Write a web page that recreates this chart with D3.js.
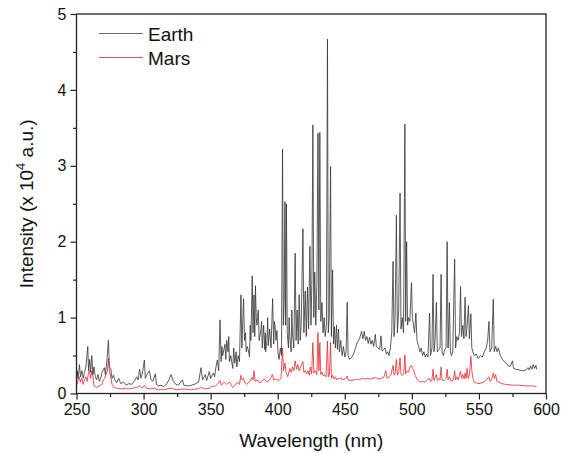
<!DOCTYPE html>
<html>
<head>
<meta charset="utf-8">
<script src="https://cdn.jsdelivr.net/npm/d3@7"></script>
<style>
  html, body { margin: 0; padding: 0; background: #fff; }
  svg { display: block; font-family: "Liberation Sans", Arial, sans-serif; }
</style>
</head>
<body>
<svg id="chart" width="564" height="453"></svg>
<script>
// ---- data (wavelength nm, intensity x1e4 a.u.) ----
const seriesNames = ["Earth", "Mars"];
const xTicks = [250, 300, 350, 400, 450, 500, 550, 600];
const yTicks = [0, 1, 2, 3, 4, 5];

const earth = [
[250,0.15],[250.5,0.3],[251.2,0.2],[252.2,0.38],[253,0.22],[254,0.3],[255,0.2],[256,0.28],[257,0.35],
[258.4,0.62],[259,0.3],[259.8,0.45],[260.5,0.28],[261.4,0.5],[262.2,0.25],[263,0.35],[264,0.22],[265,0.18],
[266,0.25],[267,0.16],[268,0.2],[269,0.28],[270.8,0.34],[271.5,0.25],[272.5,0.4],[273.8,0.70],[274.5,0.35],
[275.5,0.33],[276.5,0.2],[277.5,0.24],[278.6,0.18],[280,0.14],[281.5,0.2],[283,0.13],[285,0.15],[287,0.11],
[289,0.13],[291,0.12],[293,0.16],[294.9,0.22],[296,0.18],[297,0.32],[298,0.2],[299,0.26],[300.6,0.44],
[301.3,0.2],[302.5,0.25],[304.4,0.3],[305.5,0.18],[307,0.16],[308.8,0.26],[309.6,0.12],[311,0.1],[313,0.11],
[315,0.09],[317,0.12],[319,0.18],[320.5,0.25],[322,0.17],[324,0.12],[326,0.11],[329,0.18],[330,0.11],
[333,0.1],[336,0.11],[339,0.13],[341,0.15],[342.8,0.34],[344,0.18],[346,0.25],[347,0.17],[349,0.29],
[350,0.2],[352,0.27],[353,0.22],[354,0.35],[355,0.44],[356,0.3],[357,0.97],[357.8,0.42],[358.4,0.62],[359,0.5],
[360.7,0.65],[361.3,0.45],[362,0.7],[363,0.55],[363.5,0.75],[364,0.42],[365,0.5],[366.5,0.33],[367.2,0.6],[368,0.4],[369,0.55],[369.5,0.35],
[370.5,0.5],[371.5,0.42],[372.6,1.3],[373.3,0.6],[374.5,1.25],[375.3,0.7],[376,0.8],[376.5,0.55],[377.2,0.62],[378,0.58],
[379,0.48],[379.5,0.9],[380,0.7],[381,1.55],[381.6,0.8],[382.3,1.3],[382.9,0.75],[383.4,1.42],[384,1.0],[384.5,0.9],[385.5,1.1],
[386.2,0.7],[387.5,0.84],[388,0.95],[388.5,0.6],[389.5,0.9],[390.3,0.58],[390.8,0.8],[391,0.55],[392,0.7],[392.5,1.0],[393,0.63],[394,0.85],
[394.6,0.7],[395,0.6],[396.2,1.25],[397,0.65],[397.5,0.95],[398,0.9],[398.7,0.7],[399.4,0.83],[400.2,0.55],[401,0.45],[402,0.6],[402.8,0.5],
[403.6,3.22],[404.2,0.9],[404.8,1.2],[405.4,2.53],[405.9,0.9],[406.5,2.5],[407.1,0.8],[408,0.6],[408.5,1.0],[409,0.75],
[409.5,0.65],[410,0.55],[410.5,1.1],[411,0.8],[411.5,0.7],[412,0.6],[412.5,1.2],[413,1.85],[413.7,0.7],[414.5,1.1],[415.3,0.65],[416,1.3],[416.8,0.7],
[417.5,0.9],[418.8,2.17],[419.5,0.8],[420.5,1.35],[421.3,0.75],[422.2,1.4],[423,0.85],[424,1.94],
[424.8,0.9],[425.5,1.5],[426.2,3.54],[426.9,1.0],[427.6,1.6],[428.4,0.9],[429.2,1.45],[430,3.43],
[430.7,1.1],[431.4,3.44],[432.1,0.95],[433,1.2],[433.8,0.8],[434.6,1.0],[435.4,0.75],[436.3,0.9],
[437.1,4.67],[437.7,0.8],[438.4,1.0],[439.4,2.99],[440,0.75],[440.9,1.63],[441.6,0.65],[442.3,0.88],
[443,0.6],[443.8,0.9],[444.5,0.58],[445.3,0.85],[446,0.55],[447,0.7],[448,0.5],[449,0.62],[450,0.48],
[451,0.55],[451.8,1.2],[452.5,0.5],[453.5,0.45],[455,0.47],[456.5,0.52],[458,0.6],[459.5,0.68],[461,0.72],
[462.5,0.82],[463.5,0.72],[464.5,0.82],[465.5,0.7],[466.5,0.75],[467.5,0.66],[468.5,0.74],[469.5,0.65],
[470.5,0.7],[471.5,0.62],[472.8,0.78],[473.5,0.62],[475,0.6],[476,0.58],[477,0.76],[477.8,0.56],[479,0.58],
[480,0.6],[481,0.52],[482,0.55],[483,0.5],[484,0.6],[485,0.8],[486,1.74],[486.7,0.75],[487.5,1.0],
[488.5,2.35],[489.2,0.8],[490.2,1.1],[491.2,2.64],[491.9,0.85],[492.8,1.0],[493.8,0.8],[494.8,3.55],
[495.4,0.95],[496.1,2.0],[496.8,0.9],[497.6,1.0],[498.5,0.95],[499.7,1.46],[500.4,1.0],[501.2,0.9],
[502,0.8],[503,1.06],[503.8,0.7],[505,0.62],[506,0.55],[507,0.6],[508,0.5],[509,0.55],[510,0.48],
[511,0.52],[512,0.48],[513.2,1.06],[513.9,0.5],[515,0.6],[515.8,1.57],[516.5,0.55],[517.3,0.7],
[518.3,1.2],[519,0.55],[520,0.58],[521,0.6],[521.8,1.57],[522.5,0.55],[523.5,0.5],[524.5,0.58],
[525.5,0.6],[526.3,2.0],[527,0.6],[528,1.2],[528.7,0.55],[529.5,0.5],[530.5,0.55],[531.9,1.77],
[532.6,0.6],[533.5,0.75],[534.5,0.7],[535.5,0.8],[536.3,1.41],[537,0.75],[538,0.9],[538.8,0.72],
[539.7,1.27],[540.4,0.75],[541.2,0.9],[542.2,1.16],[542.9,0.72],[544,1.05],[544.7,0.6],[545.5,0.55],
[546.5,0.5],[548,0.52],[549.5,0.46],[551,0.5],[552.5,0.48],[554,0.55],[555.5,0.6],[556.5,0.7],
[557.5,0.95],[558.2,0.55],[559.5,0.6],[560.7,1.24],[561.4,0.55],[562.5,0.62],[563.5,0.55],[564.5,0.6],
[566,0.5],[567.5,0.45],[569,0.42],[570.5,0.4],[572,0.36],[573.5,0.36],[575,0.43],[575.8,0.33],
[577.5,0.32],[580,0.31],[582.5,0.3],[585,0.31],[586.5,0.34],[587.5,0.31],[588.5,0.36],[589.5,0.32],
[590.5,0.38],[591.5,0.33],[592.5,0.37],[593,0.32]
];

const mars = [
[250,0.1],[251,0.16],[252,0.22],[253,0.15],[254,0.2],[255,0.12],[256,0.18],[257,0.22],[258,0.16],
[259,0.28],[259.7,0.3],[260.5,0.2],[261.5,0.3],[262.3,0.22],[263,0.1],[265,0.08],[267,0.1],[269,0.12],
[270,0.18],[271,0.2],[272,0.25],[273,0.3],[273.8,0.46],[274.5,0.3],[275.5,0.22],[276.5,0.12],[278,0.08],
[280,0.07],[283,0.06],[286,0.07],[289,0.06],[292,0.07],[295,0.08],[297,0.1],[299,0.07],[300.6,0.11],
[302,0.07],[305,0.06],[308,0.07],[311,0.05],[315,0.05],[320,0.07],[325,0.05],[330,0.06],[335,0.05],
[340,0.06],[343,0.08],[346,0.06],[349,0.07],[351,0.1],[353,0.09],[355,0.12],[357,0.17],[358,0.11],
[360,0.15],[362,0.12],[364,0.15],[366.5,0.08],[368,0.11],[370,0.15],[371.5,0.12],[372.6,0.24],
[373.5,0.18],[374.5,0.2],[375.5,0.14],[377,0.12],[379,0.16],[381,0.21],[381.6,0.18],[382.3,0.3],
[383.2,0.16],[385,0.18],[386.5,0.14],[388,0.16],[390,0.19],[392,0.15],[394,0.18],[396,0.25],[397,0.18],
[399,0.19],[401,0.17],[402.5,0.2],[403.6,0.6],[404.3,0.3],[405.4,0.4],[406.2,0.28],[407.5,0.22],
[409,0.33],[410,0.28],[411,0.35],[412,0.3],[413,0.43],[414,0.32],[415,0.38],[416,0.3],[417,0.35],
[418.8,0.42],[419.5,0.28],[420.5,0.3],[421.5,0.26],[422.5,0.3],[423.5,0.24],[424.3,0.35],[425.3,0.26],
[426.2,0.67],[426.9,0.27],[428,0.3],[429.2,0.25],[430,0.8],[430.7,0.3],[431.4,0.67],[432.1,0.25],
[433,0.28],[434,0.23],[435,0.25],[436,0.22],[437.1,0.69],[437.7,0.22],[438.5,0.25],[439.4,0.67],
[440,0.2],[441,0.24],[442,0.19],[443,0.22],[444,0.18],[445,0.2],[446,0.19],[447,0.21],[448,0.18],
[450,0.19],[451.8,0.23],[452.5,0.18],[455,0.17],[457,0.18],[459,0.19],[461,0.18],[463,0.2],[465,0.19],
[467,0.2],[469,0.19],[471,0.2],[473,0.21],[475,0.19],[477,0.2],[479,0.21],[480.6,0.3],[481.5,0.2],
[483,0.22],[484.5,0.25],[486,0.37],[486.7,0.24],[487.5,0.26],[488.5,0.45],[489.2,0.24],[490.2,0.28],
[491.2,0.47],[491.9,0.25],[493,0.24],[494,0.26],[494.8,0.51],[495.4,0.26],[496.5,0.3],[497.5,0.28],
[498.5,0.35],[499.7,0.37],[500.5,0.33],[501.5,0.3],[502.5,0.24],[504,0.18],[506,0.15],[508,0.16],
[510,0.15],[511.5,0.18],[513.2,0.2],[514,0.16],[515,0.18],[515.8,0.32],[516.5,0.17],[518.3,0.25],
[519,0.17],[520,0.2],[521,0.18],[521.8,0.35],[522.5,0.18],[524,0.17],[525.5,0.2],[526.3,0.32],
[527,0.18],[528,0.22],[529.5,0.16],[531,0.18],[531.9,0.3],[532.6,0.18],[533.5,0.22],[534.5,0.18],
[535.5,0.24],[536.3,0.29],[537,0.2],[538,0.25],[539,0.19],[539.7,0.27],[540.5,0.2],[541.2,0.33],
[542,0.2],[543,0.25],[544,0.49],[544.7,0.3],[545.5,0.2],[546.5,0.15],[548,0.14],[550,0.13],[552,0.14],
[554,0.15],[555.5,0.18],[557.5,0.22],[558.2,0.16],[559.5,0.18],[560.7,0.27],[561.5,0.2],[562.5,0.25],
[563.3,0.16],[565,0.15],[567,0.13],[570,0.12],[575,0.11],[580,0.11],[585,0.1],[590,0.1],[593,0.09]
];

// ---- layout ----
const W = 564, H = 453;
const margin = { left: 76.5, top: 14, right: 18, bottom: 59.5 };
const iw = W - margin.left - margin.right;
const ih = H - margin.top - margin.bottom;

const svg = d3.select("#chart");
const g = svg.append("g").attr("transform", `translate(${margin.left},${margin.top})`);

const x = d3.scaleLinear().domain([250, 600]).range([0, iw]);
const y = d3.scaleLinear().domain([0, 5]).range([ih, 0]);

svg.append("defs").append("clipPath").attr("id", "clip")
  .append("rect").attr("width", iw).attr("height", ih);

const line = d3.line().x(d => x(d[0])).y(d => y(d[1]));

const plot = g.append("g").attr("clip-path", "url(#clip)");
plot.append("path").datum(mars)
  .attr("fill", "none").attr("stroke", "#e8262b").attr("stroke-width", 0.8)
  .attr("stroke-linejoin", "round").attr("d", line);
plot.append("path").datum(earth)
  .attr("fill", "none").attr("stroke", "#333").attr("stroke-width", 0.8)
  .attr("stroke-linejoin", "round").attr("d", line);

// ---- axes ----
const axisColor = "#222";
const xMinor = [275, 325, 375, 425, 475, 525, 575];
const yMinor = [0.5, 1.5, 2.5, 3.5, 4.5];

function styleAxis(sel) {
  sel.select(".domain").remove();
  sel.selectAll(".tick line").attr("stroke", axisColor).attr("stroke-width", 1.2);
  sel.selectAll(".tick text").attr("fill", "#111").style("font-size", "16px")
    .style("font-family", '"Liberation Sans", Arial, sans-serif');
}

const gx = g.append("g").attr("transform", `translate(0,${ih})`)
  .call(d3.axisBottom(x).tickValues(xTicks).tickSize(6).tickPadding(4).tickFormat(d3.format("d")));
styleAxis(gx);
const gxm = g.append("g").attr("transform", `translate(0,${ih})`)
  .call(d3.axisBottom(x).tickValues(xMinor).tickSize(3.5).tickFormat(""));
styleAxis(gxm);

const gy = g.append("g")
  .call(d3.axisLeft(y).tickValues(yTicks).tickSize(6).tickPadding(4).tickFormat(d3.format("d")));
styleAxis(gy);
const gym = g.append("g")
  .call(d3.axisLeft(y).tickValues(yMinor).tickSize(3.5).tickFormat(""));
styleAxis(gym);

g.append("rect").attr("x", 0).attr("y", 0).attr("width", iw).attr("height", ih)
  .attr("fill", "none").attr("stroke", axisColor).attr("stroke-width", 1.3);

// ---- axis titles ----
svg.append("text")
  .attr("x", margin.left + iw / 2).attr("y", 447)
  .attr("text-anchor", "middle").style("font-size", "19px").attr("fill", "#111")
  .text("Wavelength (nm)");

const yt = svg.append("text")
  .attr("transform", `translate(33,${margin.top + ih / 2}) rotate(-90)`)
  .attr("text-anchor", "middle").style("font-size", "19px").attr("fill", "#111");
yt.append("tspan").text("Intensity (x 10");
yt.append("tspan").attr("dy", -8).style("font-size", "13px").text("4");
yt.append("tspan").attr("dy", 8).text(" a.u.)");

// ---- legend ----
const legendColors = ["#6a6a6a", "#e0506a"];
const legend = g.append("g");
seriesNames.forEach((name, i) => {
  const ly = 19.5 + i * 24;
  legend.append("line").attr("x1", 22.5).attr("x2", 66.5).attr("y1", ly).attr("y2", ly)
    .attr("stroke", legendColors[i]).attr("stroke-width", 1);
  legend.append("text").attr("x", 71.5).attr("y", ly + 7)
    .style("font-size", "19px").attr("fill", "#111").text(name);
});
</script>
</body>
</html>
